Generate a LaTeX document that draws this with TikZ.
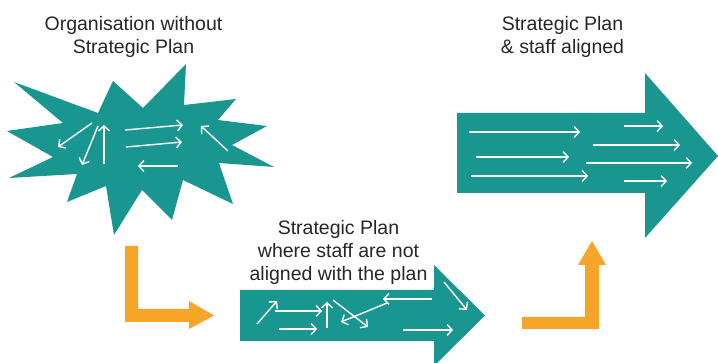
\documentclass[tikz,border=0pt]{standalone}
\usepackage{fontspec}
\setmainfont{Liberation Sans}
\usetikzlibrary{arrows.meta}
\definecolor{planteal}{HTML}{1A9690}
\definecolor{planorange}{HTML}{F7A528}

\begin{document}
\begin{tikzpicture}[x=1pt, y=-1pt,
		tealfill/.style={fill=planteal},
		orangefill/.style={fill=planorange},
		flow/.style={draw=white, line width=1.4pt, -{Straight Barb[length=5pt,width=11pt]}},
		caption/.style={font=\fontsize{19.5}{23}\selectfont, text=black!85, align=center, anchor=north, inner sep=0pt}]
	\useasboundingbox (0,0) rectangle (718,363);
	\clip (0,0) rectangle (718,363);

	% Star burst
	\fill[tealfill]
	(7,131) -- (63,123) -- (14,82) -- (98,113) -- (113,81) -- (143,108)
	-- (186,64) -- (184,105) -- (236,99) -- (218,120) -- (267,126)
	-- (232,145) -- (274,167) -- (219,163) -- (233,204) -- (183,180)
	-- (172,220) -- (142,190) -- (114,235) -- (106,186) -- (67,202)
	-- (77,174) -- (9,178) -- (53,157) -- cycle;

	% Loose arrows in the star
	\foreach \xa/\ya/\xb/\yb in {92/123/58/147, 98/126/82/165, 104/164/104/125,
		125/130/183/125, 126/147/182/142, 178/166/138/166, 228/151/201/126}
	\draw[flow] (\xa,\ya) -- (\xb,\yb);

	% Middle block arrow
	\fill[tealfill]
	(240,290) -- (434,290) -- (434,265) -- (485,315.5)
	-- (434,366) -- (434,341) -- (240,341) -- cycle;
	\foreach \xa/\ya/\xb/\yb in {257/324/277/301, 275/311/322/311, 279/329/317/329,
		327/328/327/302, 333/300/368/327, 432/299/383/299, 387/303/341/322,
		444/282/467/310, 403/330/453/330}
	\draw[flow] (\xa,\ya) -- (\xb,\yb);

	% Right block arrow
	\fill[tealfill]
	(457,113) -- (645,113) -- (645,73) -- (718,156)
	-- (645,238) -- (645,193) -- (457,193) -- cycle;
	\foreach \xa/\ya/\xb/\yb in {469/132/580/132, 476/157/569/157, 471/176/588/176,
		624/126/663/126, 593/145/680/145, 586/163/692/163, 624/181/667/181}
	\draw[flow] (\xa,\ya) -- (\xb,\yb);

	% Orange bends
	\fill[orangefill]
	(125,246) -- (138,246) -- (138,309) -- (189,309) -- (189,301) -- (214,315.5)
	-- (189,329) -- (189,322) -- (125,322) -- cycle;
	\fill[orangefill]
	(522,317) -- (585,317) -- (585,265) -- (578,265) -- (592,241) -- (606,265)
	-- (599,265) -- (599,329) -- (522,329) -- cycle;

	% Captions
	\node[caption] (without) at (133.5,16.6) {Organisation without\\Strategic Plan};
	\node[caption] (notaligned) at (338.5,220.6) {Strategic Plan\\where staff are not\\aligned with the plan};
	\node[caption] (aligned) at (562.5,16.6) {Strategic Plan\\\& staff aligned};
\end{tikzpicture}
\end{document}
